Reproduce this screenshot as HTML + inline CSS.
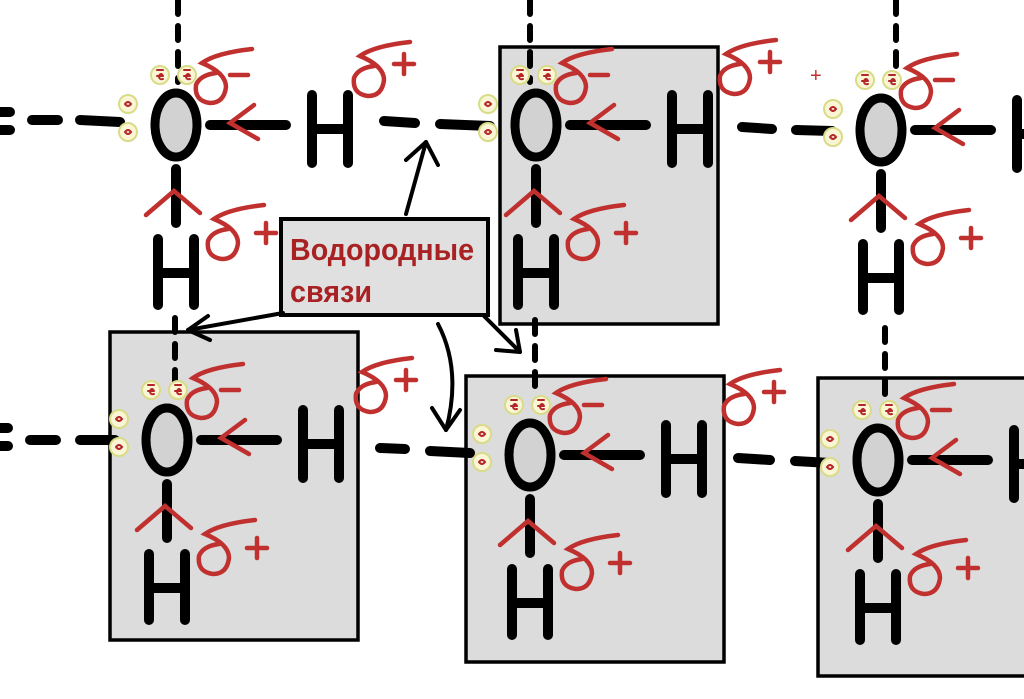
<!DOCTYPE html>
<html><head><meta charset="utf-8"><style>
html,body{margin:0;padding:0;background:#fff;width:1024px;height:699px;overflow:hidden}
svg{display:block}
.lbl{font-family:"Liberation Sans","Noto Sans CJK SC",sans-serif;font-weight:bold;fill:#a82224;font-size:31px}
</style></head><body>
<svg width="1024" height="699" viewBox="0 0 1024 699" xmlns="http://www.w3.org/2000/svg">
<defs>
<g id="mol" stroke-linecap="round" fill="none">
  <g stroke="#000" stroke-width="10">
    <line x1="34" y1="0" x2="110" y2="0"/>
    <line x1="136" y1="-30" x2="136" y2="38"/><line x1="172" y1="-30" x2="172" y2="38"/><line x1="136" y1="4" x2="172" y2="4"/>
    <line x1="0" y1="44" x2="0" y2="98"/>
    <line x1="-18" y1="114" x2="-18" y2="180"/><line x1="18" y1="114" x2="18" y2="180"/><line x1="-18" y1="148" x2="18" y2="148"/>
  </g>
  <ellipse cx="0" cy="0" rx="21" ry="32" fill="#d2d2d2" stroke="#000" stroke-width="9"/>
  <g stroke="#c0302e" stroke-width="4.5">
    <polyline points="78,-20 54,-2 82,14"/>
    <polyline points="-30,90 -2,66 24,88"/>
    <path d="M76,-76 Q40,-72 26,-62 Q50,-52 50,-38 Q48,-22 34,-22 Q18,-24 20,-40 Q24,-50 40,-52"/>
    <line x1="54" y1="-50" x2="72" y2="-50"/>
    <path d="M88,80 Q52,84 38,94 Q62,104 62,118 Q60,134 46,134 Q30,132 32,116 Q36,106 52,104"/>
    <line x1="80" y1="108" x2="100" y2="108"/><line x1="90" y1="98" x2="90" y2="118"/>
  </g>
  <g fill="#faf5d5" stroke="#d9dc86" stroke-width="2">
    <circle cx="-16" cy="-50" r="9"/><circle cx="11" cy="-50" r="9"/>
    <circle cx="-48" cy="-21" r="9"/><circle cx="-48" cy="7" r="9"/>
  </g>
  <g stroke="#b3262a" stroke-width="2">
    <path d="M-19,-49 h6 M-13,-49 q-2,-4 -4,0 q0,4 4,3 M-19,-55 h6"/>
    <path d="M8,-49 h6 M14,-49 q-2,-4 -4,0 q0,4 4,3 M8,-55 h6"/>
    <path d="M-51,-21 q3,-4 6,0 q-3,4 -6,0"/><path d="M-51,7 q3,-4 6,0 q-3,4 -6,0"/>
  </g>
</g>
<g id="dplus" stroke="#c0302e" stroke-width="4.5" fill="none" stroke-linecap="round">
  <path d="M50,-8 Q14,-4 0,6 Q24,16 24,30 Q22,46 8,46 Q-8,44 -6,28 Q-2,18 14,16"/>
  <line x1="34" y1="14" x2="54" y2="14"/><line x1="44" y1="4" x2="44" y2="24"/>
</g>
</defs>

<g fill="#dcdcdc" stroke="#000" stroke-width="3.5">
  <rect x="500" y="47" width="218" height="277"/>
  <rect x="110" y="332" width="248" height="308"/>
  <rect x="466" y="376" width="258" height="286"/>
  <rect x="818" y="378" width="212" height="298"/>
</g>

<g stroke="#000" stroke-width="10" stroke-linecap="round" fill="none">
  <line x1="0" y1="112" x2="10" y2="112"/><line x1="0" y1="130" x2="10" y2="130"/>
  <line x1="32" y1="120" x2="58" y2="120"/><line x1="80" y1="120" x2="120" y2="122"/>
  <line x1="384" y1="121" x2="415" y2="123"/><line x1="440" y1="124" x2="490" y2="126"/>
  <line x1="742" y1="127" x2="772" y2="129"/><line x1="796" y1="130" x2="832" y2="131"/>
  <line x1="0" y1="428" x2="8" y2="428"/><line x1="0" y1="446" x2="8" y2="446"/>
  <line x1="30" y1="440" x2="56" y2="440"/><line x1="80" y1="440" x2="115" y2="440"/>
  <line x1="380" y1="448" x2="405" y2="449"/><line x1="430" y1="451" x2="470" y2="453"/>
  <line x1="738" y1="458" x2="770" y2="460"/><line x1="795" y1="461" x2="830" y2="463"/>
</g>
<g stroke="#000" stroke-width="6" stroke-linecap="round" stroke-dasharray="14 12">
  <line x1="178" y1="0" x2="178" y2="82"/>
  <line x1="530" y1="0" x2="530" y2="82"/>
  <line x1="896" y1="0" x2="896" y2="84"/>
  <line x1="175" y1="318" x2="175" y2="384"/>
  <line x1="535" y1="320" x2="535" y2="396"/>
  <line x1="885" y1="328" x2="885" y2="396"/>
</g>

<use href="#mol" x="176" y="125"/>
<use href="#mol" x="536" y="125"/>
<use href="#mol" x="881" y="130"/>
<use href="#mol" x="167" y="440"/>
<use href="#mol" x="530" y="455"/>
<use href="#mol" x="878" y="460"/>

<use href="#dplus" x="360" y="50"/>
<use href="#dplus" x="726" y="48"/>
<use href="#dplus" x="362" y="366"/>
<use href="#dplus" x="730" y="378"/>
<text x="810" y="82" fill="#c0302e" font-size="20" font-family="Liberation Sans,sans-serif">+</text>

<rect x="281" y="219" width="207" height="96" fill="#e0e0e0" stroke="#000" stroke-width="4"/>
<text class="lbl" x="290" y="260" textLength="184" lengthAdjust="spacingAndGlyphs">Водородные</text>
<text class="lbl" x="290" y="302" textLength="82" lengthAdjust="spacingAndGlyphs">связи</text>

<g stroke="#000" stroke-width="4" fill="none" stroke-linecap="round" stroke-linejoin="round">
  <line x1="406" y1="214" x2="426" y2="142"/><polyline points="406,160 426,142 438,165"/>
  <line x1="283" y1="313" x2="188" y2="330"/><polyline points="208,316 188,330 210,340"/>
  <line x1="484" y1="316" x2="520" y2="352"/><polyline points="496,350 520,352 516,330"/>
  <path d="M438,324 Q462,370 446,430"/><polyline points="432,408 446,430 460,410"/>
</g>
</svg>
</body></html>
